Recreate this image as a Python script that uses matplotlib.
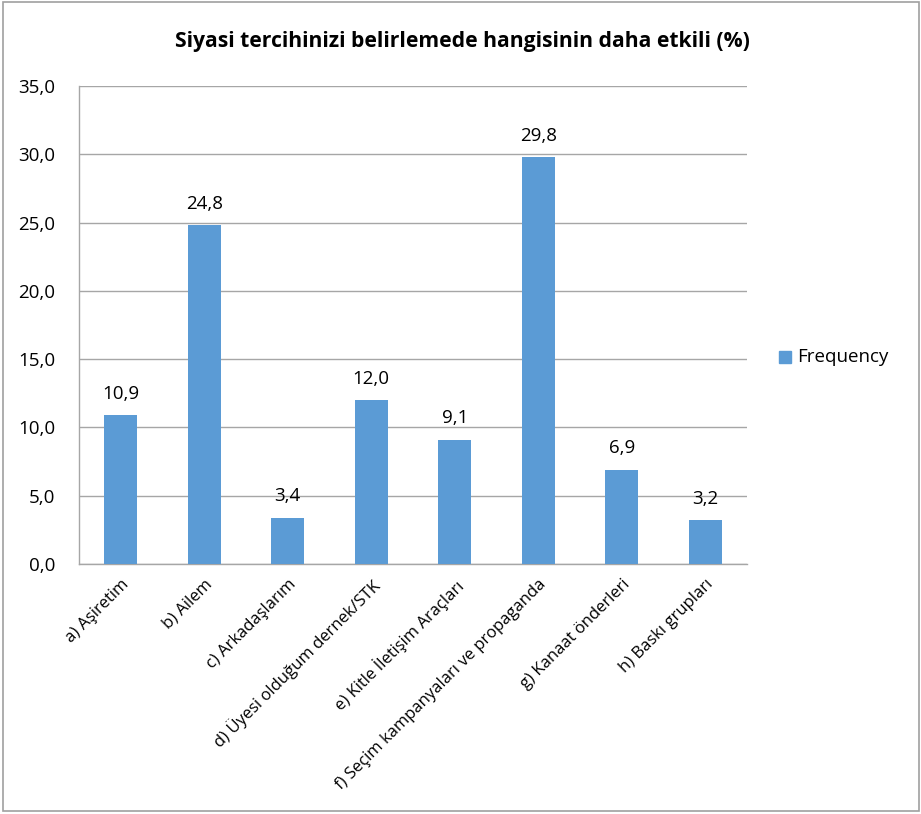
import matplotlib
matplotlib.use("Agg")
import matplotlib.pyplot as plt
from matplotlib.patches import Rectangle

plt.rcParams["font.family"] = ["Open Sans", "DejaVu Sans"]

categories = [
    "a) Aşiretim",
    "b) Ailem",
    "c) Arkadaşlarım",
    "d) Üyesi olduğum dernek/STK",
    "e) Kitle İletişim Araçları",
    "f) Seçim kampanyaları ve propaganda",
    "g) Kanaat önderleri",
    "h) Baskı grupları",
]
frequency = [10.9, 24.8, 3.4, 12.0, 9.1, 29.8, 6.9, 3.2]
y_ticks = [0, 5, 10, 15, 20, 25, 30, 35]

W, H = 921, 814
bar_color = "#5B9BD5"
grid_color = "#A6A6A6"

fig = plt.figure(figsize=(W / 100, H / 100), dpi=100)

# outer chart border
fig.patches.append(Rectangle((3 / W, (H - 811) / H), 916 / W, 809 / H,
                             transform=fig.transFigure, fill=False,
                             edgecolor="#A0A0A0", linewidth=1.2))

ax = fig.add_axes([79 / W, (H - 564) / H, (747 - 79) / W, (564 - 86) / H])
x = list(range(len(categories)))
ax.bar(x, frequency, width=0.4, color=bar_color, zorder=3)

ax.set_xlim(-0.5, len(categories) - 0.5)
ax.set_ylim(0, 35)
ax.set_yticks(y_ticks)
ax.set_yticklabels([f"{v:.1f}".replace(".", ",") for v in y_ticks], fontsize=13.5)
ax.yaxis.grid(True, color=grid_color, linewidth=1, zorder=0)
ax.tick_params(axis="y", length=0, pad=17)
ax.tick_params(axis="x", length=0, pad=9)

ax.set_xticks(x)
ax.set_xticklabels(categories, rotation=45, ha="right", va="top",
                   rotation_mode="anchor", fontsize=12)

for s in ["top", "right"]:
    ax.spines[s].set_visible(False)
for s in ["left", "bottom"]:
    ax.spines[s].set_color(grid_color)
    ax.spines[s].set_linewidth(1)

for xi, v in zip(x, frequency):
    ax.annotate(f"{v:.1f}".replace(".", ","), (xi, v), xytext=(0, 9),
                textcoords="offset points", ha="center", va="bottom", fontsize=13.5)

fig.text(462 / W, 1 - 42 / H, "Siyasi tercihinizi belirlemede hangisinin daha etkili (%)",
         ha="center", va="center", fontsize=15.2, fontweight="bold")

# legend
fig.patches.append(Rectangle((779 / W, 1 - 363 / H), 12 / W, 12 / H,
                             transform=fig.transFigure, color=bar_color))
fig.text(797 / W, 1 - 357 / H, "Frequency", ha="left", va="center", fontsize=13.5)

fig.savefig("out.png", dpi=100)
